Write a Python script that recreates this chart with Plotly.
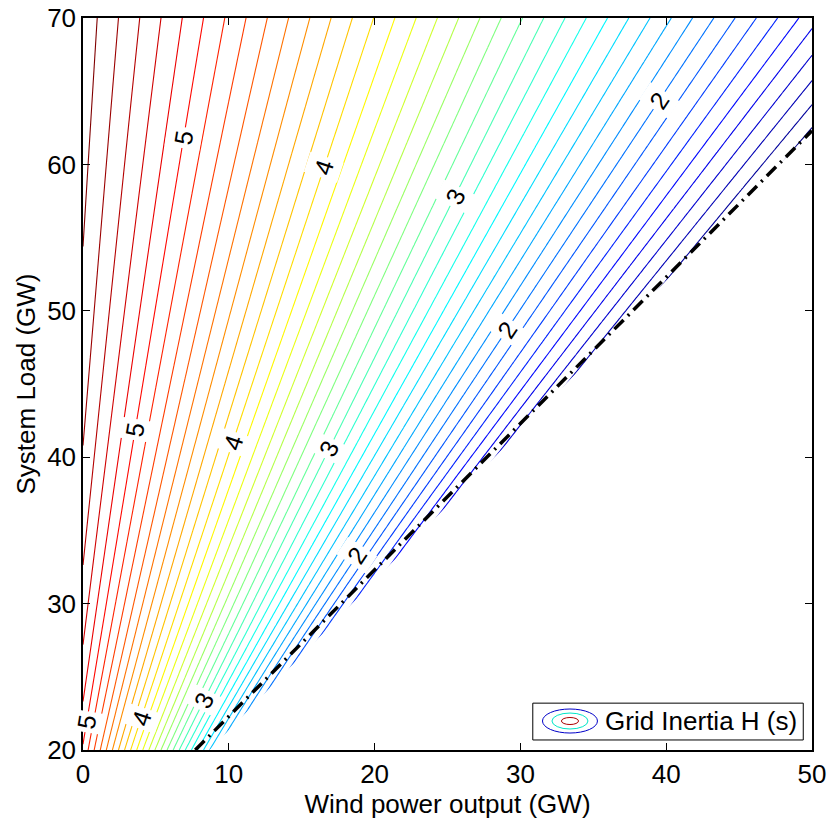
import numpy as np
import plotly.graph_objects as go

# ---- values ----
# Grid inertia model: H = H_GEN * (load - wind - P_FIXED) / load
H_GEN = 6.0          # s, inertia constant of synchronous fleet
P_FIXED = 3.4        # GW, non-synchronous fixed part of load
MIN_SYNC = 12.3      # GW, minimum synchronous generation (dash-dot limit)

wind_gw = np.arange(0.0, 50.0 + 0.25, 0.25)     # x grid (GW)
load_gw = np.arange(20.0, 70.0 + 0.25, 0.25)    # y grid (GW)

LEVEL_START = 0.875
LEVEL_END = 5.75
LEVEL_STEP = 0.125
Z_MIN = 0.857
Z_MAX = 5.71

# contour label positions: level and load at which label sits
label_levels = [5, 5, 5, 4, 4, 4, 3, 3, 3, 2, 2, 2]
label_loads = [61.8, 41.9, 21.9, 59.8, 41.0, 22.2, 57.8, 40.6, 23.4, 64.4, 48.7, 33.3]

x_ticks = [0, 10, 20, 30, 40, 50]
y_ticks = [20, 30, 40, 50, 60, 70]

# ---- figure ----
W, L = np.meshgrid(wind_gw, load_gw)
Z = H_GEN * (L - W - P_FIXED) / L

jet = [[0.0, 'rgb(0,0,128)'], [0.125, 'rgb(0,0,255)'], [0.375, 'rgb(0,255,255)'],
       [0.625, 'rgb(255,255,0)'], [0.875, 'rgb(255,0,0)'], [1.0, 'rgb(128,0,0)']]

FONT = "Liberation Sans, Arial, sans-serif"
FS = 26
fig = go.Figure()
fig.add_trace(go.Contour(
    x=wind_gw, y=load_gw, z=Z,
    contours=dict(coloring='lines', start=LEVEL_START, end=LEVEL_END, size=LEVEL_STEP,
                  showlabels=False),
    colorscale=jet, zmin=Z_MIN, zmax=Z_MAX, zauto=False,
    line=dict(width=1.1), showscale=False, hoverinfo='skip'))

# white mask beyond the minimum synchronous generation limit
lim_w0 = load_gw[0] - MIN_SYNC
lim_l1 = wind_gw[-1] + MIN_SYNC
fig.add_trace(go.Scatter(
    x=[lim_w0, wind_gw[-1] + 1, wind_gw[-1] + 1, wind_gw[-1]],
    y=[load_gw[0] - 1, load_gw[0] - 1, lim_l1, lim_l1],
    fill='toself', fillcolor='white', line=dict(width=0), mode='lines',
    hoverinfo='skip', showlegend=False))
fig.add_trace(go.Scatter(
    x=[lim_w0, wind_gw[-1]], y=[load_gw[0], lim_l1], mode='lines',
    line=dict(color='black', width=3.5, dash='13px,6px,2px,6px'),
    hoverinfo='skip', showlegend=False))

px_per_x = 729 / 50
px_per_y = 732 / 50
for lev, ld in zip(label_levels, label_loads):
    wx = ld * (1 - lev / H_GEN) - P_FIXED
    slope = 1.0 / (1 - lev / H_GEN)
    ang = np.degrees(np.arctan2(slope * px_per_y, px_per_x))
    fig.add_annotation(x=wx, y=ld, text=str(lev), showarrow=False, textangle=-ang,
                       font=dict(family=FONT, size=25, color='black'),
                       bgcolor='white', borderpad=3)

# legend box drawn in paper coordinates
fig.add_shape(type='rect', xref='paper', yref='paper', x0=0.617, x1=0.988, y0=0.0137, y1=0.064,
              line=dict(color='black', width=1), fillcolor='white', layer='above')
cx, cy = 0.668, 0.0396
for hw, hh, col in [(0.0377, 0.0164, 'rgb(0,0,200)'), (0.0247, 0.0109, 'rgb(0,230,200)'),
                    (0.0117, 0.0048, 'rgb(170,0,0)')]:
    fig.add_shape(type='circle', xref='paper', yref='paper', x0=cx - hw, x1=cx + hw,
                  y0=cy - hh, y1=cy + hh, line=dict(color=col, width=1), layer='above')
fig.add_annotation(xref='paper', yref='paper', x=0.713, y=cy, xanchor='left', yanchor='middle',
                   text='Grid Inertia H (s)', showarrow=False,
                   font=dict(family=FONT, size=FS, color='black'))

axis_common = dict(showline=True, linecolor='black', linewidth=1.5, mirror='ticks',
                   ticks='inside', ticklen=7, tickwidth=1, tickcolor='black',
                   showgrid=False, zeroline=False, automargin=False,
                   tickfont=dict(family=FONT, size=FS, color='black'))
fig.update_xaxes(range=[0, 50], tickvals=x_ticks, title=dict(text='Wind power output (GW)',
                 font=dict(family=FONT, size=FS, color='black'), standoff=0), **axis_common)
fig.update_yaxes(range=[20, 70], tickvals=y_ticks, title=dict(text='System Load (GW)',
                 font=dict(family=FONT, size=FS, color='black'), standoff=4), **axis_common)
fig.update_layout(width=831, height=819, margin=dict(l=83, r=19, t=18, b=69),
                  plot_bgcolor='white', paper_bgcolor='white', showlegend=False)
fig.write_html("out.html")
